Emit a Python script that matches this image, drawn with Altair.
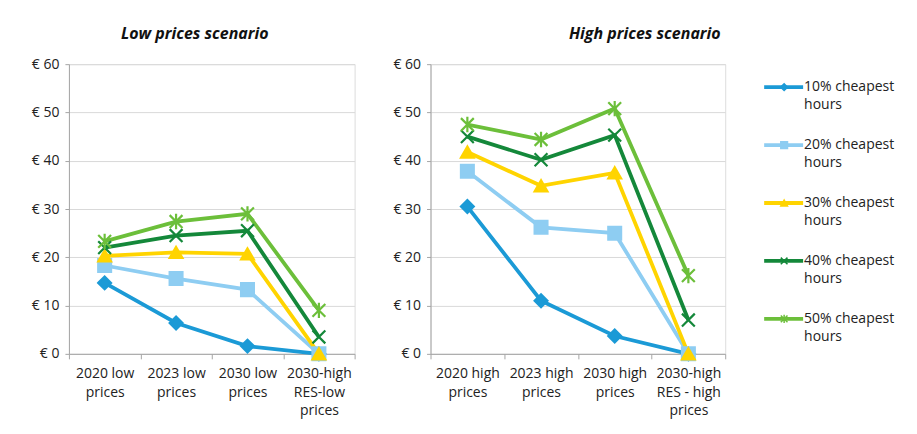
import altair as alt
import pandas as pd

# ---- data ----
series = ["10% cheapest hours", "20% cheapest hours", "30% cheapest hours",
          "40% cheapest hours", "50% cheapest hours"]
legend_labels = ["10% cheapest\nhours", "20% cheapest\nhours", "30% cheapest\nhours",
                 "40% cheapest\nhours", "50% cheapest\nhours"]

categories_low = ["2020 low\nprices", "2023 low\nprices", "2030 low\nprices",
                  "2030-high\nRES-low\nprices"]
categories_high = ["2020 high\nprices", "2023 high\nprices", "2030 high\nprices",
                   "2030-high\nRES - high\nprices"]

low_10 = [14.7, 6.4, 1.6, 0.0]
low_20 = [18.3, 15.6, 13.3, 0.0]
low_30 = [20.3, 21.0, 20.7, 0.0]
low_40 = [22.0, 24.5, 25.5, 3.5]
low_50 = [23.3, 27.4, 29.0, 9.0]

high_10 = [30.5, 11.0, 3.7, 0.0]
high_20 = [37.8, 26.2, 25.0, 0.0]
high_30 = [41.8, 34.8, 37.5, 0.0]
high_40 = [45.0, 40.2, 45.3, 7.0]
high_50 = [47.5, 44.4, 50.8, 16.2]

y_ticks = [0, 10, 20, 30, 40, 50, 60]

# ---- styles ----
colors = ["#1b9ad6", "#8ecdf2", "#ffd400", "#14883a", "#6cbf3a"]
x_path = "M-1,-1L1,1M-1,1L1,-1"
star_path = "M-1,-1L1,1M-1,1L1,-1M0,-1.2L0,1.2"
shapes = ["diamond", "square", "triangle-up", x_path, star_path]
FONT = "Open Sans"


def make_df(categories, values_list):
    rows = []
    for s, vals in zip(series, values_list):
        for c, v in zip(categories, vals):
            rows.append({"series": s, "category": c, "value": v})
    return pd.DataFrame(rows)


df_low = make_df(categories_low, [low_10, low_20, low_30, low_40, low_50])
df_high = make_df(categories_high, [high_10, high_20, high_30, high_40, high_50])

color_scale = alt.Scale(domain=series, range=colors)
shape_scale = alt.Scale(domain=series, range=shapes)


def panel(df, categories, title, width, dx):
    x = alt.X("category:N", sort=categories,
              scale=alt.Scale(type="band", paddingInner=0, paddingOuter=0),
              axis=alt.Axis(title=None, labelAngle=0, labelExpr="split(datum.label, '\\n')",
                            tickBand="extent", labelFontSize=14, labelLineHeight=18.5,
                            labelColor="#222222", labelFont=FONT, labelPadding=8,
                            domainColor="#a6a6a6", tickColor="#a6a6a6", tickSize=5,
                            labelLimit=200, labelOverlap=False, grid=False))
    y = alt.Y("value:Q", scale=alt.Scale(domain=[0, 60], nice=False),
              axis=alt.Axis(title=None, values=y_ticks, labelExpr="'€ ' + datum.value",
                            labelFontSize=14, labelColor="#222222", labelFont=FONT,
                            labelPadding=6, tickSize=4, tickColor="#a6a6a6",
                            domainColor="#a6a6a6", gridColor="#d9d9d9"))
    base = alt.Chart(df)
    lines = base.mark_line(strokeWidth=3.8).encode(
        x=x, y=y,
        color=alt.Color("series:N", scale=color_scale, legend=None),
        detail="series:N",
    )
    points = base.mark_point(filled=True, size=165, strokeWidth=2.2, opacity=1).encode(
        x=x, y=y,
        color=alt.Color("series:N", scale=color_scale, legend=None),
        stroke=alt.Stroke("series:N", scale=color_scale, legend=None),
        shape=alt.Shape("series:N", scale=shape_scale, legend=None),
    )
    return alt.layer(lines, points).properties(
        width=width, height=290,
        title=alt.TitleParams(title, fontSize=16, fontStyle="italic", fontWeight="bold",
                              font=FONT, color="#111111", anchor="middle", dx=dx, offset=15),
    )


left = panel(df_low, categories_low, "Low prices scenario", 286, -17)
right = panel(df_high, categories_high, "High prices scenario", 295, 67)

leg_df = pd.DataFrame({"series": series, "label": legend_labels})
ly = alt.Y("series:N", sort=series, scale=alt.Scale(type="band", paddingInner=0, paddingOuter=0),
           axis=None)
leg_base = alt.Chart(leg_df)
leg_rule = leg_base.mark_rule(strokeWidth=3.8, yOffset=-6).encode(
    x=alt.value(0), x2=alt.value(39), y=ly,
    color=alt.Color("series:N", scale=color_scale, legend=None),
)
leg_pts = leg_base.mark_point(filled=True, size=45, strokeWidth=1.5, opacity=1, yOffset=-6).encode(
    x=alt.value(20), y=ly,
    color=alt.Color("series:N", scale=color_scale, legend=None),
    stroke=alt.Stroke("series:N", scale=color_scale, legend=None),
    shape=alt.Shape("series:N", scale=shape_scale, legend=None),
)
leg_txt = leg_base.mark_text(align="left", baseline="middle", fontSize=14, font=FONT,
                             color="#222222", lineBreak="\n", lineHeight=18, dx=40, yOffset=-6).encode(
    x=alt.value(0), y=ly, text="label:N",
)
legend = alt.layer(leg_rule, leg_pts, leg_txt).properties(
    width=140, height=290,
    view=alt.ViewBackground(stroke=None),
    title=alt.TitleParams(" ", fontSize=16, offset=15),
)

chart = alt.hconcat(left, right, legend, spacing=36).properties(
    padding={"left": 22, "top": 17, "right": 5, "bottom": 5},
).configure_view(stroke="#d9d9d9").configure(background="white")

chart.save("out.html", embed_options={"renderer": "svg", "actions": False})
